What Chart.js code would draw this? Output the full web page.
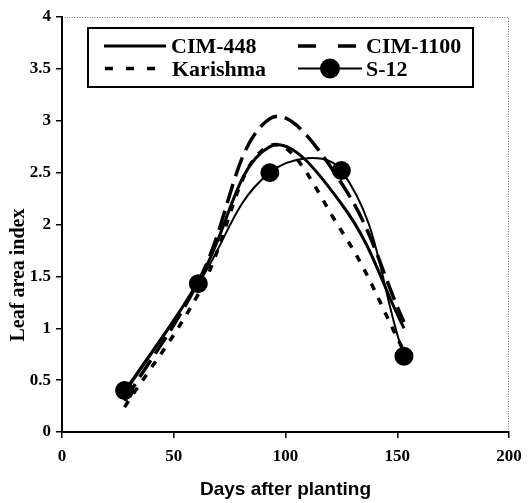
<!DOCTYPE html>
<html>
<head>
<meta charset="utf-8">
<script src="https://cdn.jsdelivr.net/npm/chart.js@4.4.1/dist/chart.umd.min.js"></script>
<style>
  html, body { margin: 0; padding: 0; background: #fff; }
  #wrap { width: 532px; height: 503px; position: relative; }
</style>
</head>
<body>
<div id="wrap"><canvas id="lai-chart"></canvas></div>
<script>
// Datos
var dias = [28, 61, 93, 125, 153];
var cim448 = [0.38, 1.45, 2.75, 2.2, 1.0];
var cim1100 = [0.3, 1.45, 3.02, 2.4, 1.06];
var karishma = [0.24, 1.33, 2.76, 1.94, 0.78];
var s12 = [0.4, 1.43, 2.5, 2.52, 0.73];

var xTicks = [0, 50, 100, 150, 200];
var yTicks = [0, 0.5, 1, 1.5, 2, 2.5, 3, 3.5, 4];

function puntos(valores) {
    return dias.map(function(d, i) { return { x: d, y: valores[i] }; });
}

var serif = '"Liberation Serif", "Times New Roman", serif';

// leyenda y detalles del marco
var extras = {
    id: 'extras',
    beforeDatasetsDraw: function(chart) {
        var ctx = chart.ctx, a = chart.chartArea;
        ctx.save();
        ctx.strokeStyle = 'rgba(0,0,0,0.55)';
        ctx.lineWidth = 1;
        ctx.setLineDash([1, 1.5]);
        ctx.beginPath();
        ctx.moveTo(a.left, a.top + 0.5);
        ctx.lineTo(a.right - 0.5, a.top + 0.5);
        ctx.lineTo(a.right - 0.5, a.bottom);
        ctx.stroke();
        ctx.restore();
    },
    afterDraw: function(chart) {
        var ctx = chart.ctx;
        ctx.save();
        // caja
        ctx.fillStyle = '#fff';
        ctx.fillRect(88, 28, 385, 59);
        ctx.strokeStyle = '#000';
        ctx.lineWidth = 2;
        ctx.strokeRect(88, 28, 385, 59);

        function muestra(x1, x2, y, w, dash) {
            ctx.beginPath();
            ctx.lineWidth = w;
            ctx.setLineDash(dash);
            ctx.moveTo(x1, y);
            ctx.lineTo(x2, y);
            ctx.stroke();
            ctx.setLineDash([]);
        }
        muestra(104, 166, 46, 3, []);
        muestra(298, 362, 46, 3.5, [18, 22]);
        muestra(105, 156, 68.5, 3.5, [8, 13]);
        muestra(298, 362, 68.5, 2, []);
        ctx.beginPath();
        ctx.fillStyle = '#000';
        ctx.arc(330, 68.5, 10, 0, Math.PI * 2);
        ctx.fill();

        ctx.fillStyle = '#000';
        ctx.font = 'bold 22px ' + serif;
        ctx.textAlign = 'left';
        ctx.textBaseline = 'alphabetic';
        ctx.fillText('CIM-448', 171, 53);
        ctx.fillText('CIM-1100', 366, 53);
        ctx.fillText('Karishma', 172, 76);
        ctx.fillText('S-12', 366, 76);

        // titulo eje y
        ctx.translate(19, 275);
        ctx.rotate(-Math.PI / 2);
        ctx.font = 'bold 20px ' + serif;
        ctx.textAlign = 'center';
        ctx.textBaseline = 'middle';
        ctx.fillText('Leaf area index', 0, 0);
        ctx.restore();
    }
};

document.addEventListener("DOMContentLoaded", function() {
    var ctx = document.getElementById('lai-chart').getContext('2d');
    var chart = new Chart(ctx, {
        type: 'line',
        data: {
            datasets: [{
                label: 'CIM-448',
                data: puntos(cim448),
                borderColor: '#000',
                borderWidth: 3,
                pointRadius: 0,
                tension: 0.4
            }, {
                label: 'CIM-1100',
                data: puntos(cim1100),
                borderColor: '#000',
                borderWidth: 3.5,
                borderDash: [20, 8],
                pointRadius: 0,
                tension: 0.4
            }, {
                label: 'Karishma',
                data: puntos(karishma),
                borderColor: '#000',
                borderWidth: 3.5,
                borderDash: [7, 9],
                pointRadius: 0,
                tension: 0.4
            }, {
                label: 'S-12',
                data: puntos(s12),
                borderColor: '#000',
                borderWidth: 2,
                pointRadius: 8.5,
                pointBackgroundColor: '#000',
                pointBorderColor: '#000',
                tension: 0.4
            }]
        },
        options: {
            responsive: true,
            maintainAspectRatio: false,
            animation: false,
            layout: { padding: { top: 17, right: 23, left: 0, bottom: 0 } },
            plugins: {
                legend: { display: false },
                tooltip: { enabled: false }
            },
            scales: {
                x: {
                    type: 'linear',
                    min: 0,
                    max: 200,
                    afterBuildTicks: function(s) { s.ticks = xTicks.map(function(v) { return { value: v }; }); },
                    afterFit: function(s) { s.height = 71; },
                    border: { display: true, color: '#000', width: 2 },
                    grid: { drawOnChartArea: false, drawTicks: true, tickLength: 6, color: '#000', lineWidth: 1.5 },
                    ticks: {
                        color: '#000', padding: 8, maxRotation: 0,
                        callback: function(v) { return String(v); },
                        font: { family: serif, size: 17, weight: 'bold' }
                    },
                    title: {
                        display: true,
                        text: 'Days after planting',
                        color: '#000',
                        padding: { top: 0, bottom: 2 },
                        font: { family: '"Liberation Sans", Arial, sans-serif', size: 19, weight: 'bold' }
                    }
                },
                y: {
                    min: 0,
                    max: 4,
                    afterBuildTicks: function(s) { s.ticks = yTicks.map(function(v) { return { value: v }; }); },
                    afterFit: function(s) { s.width = 62; },
                    border: { display: true, color: '#000', width: 2 },
                    grid: { drawOnChartArea: false, drawTicks: true, tickLength: 6, color: '#000', lineWidth: 1.5 },
                    ticks: {
                        color: '#000', padding: 5,
                        callback: function(v) { return String(v); },
                        font: { family: serif, size: 17, weight: 'bold' }
                    }
                }
            }
        },
        plugins: [extras]
    });
});
</script>
</body>
</html>
